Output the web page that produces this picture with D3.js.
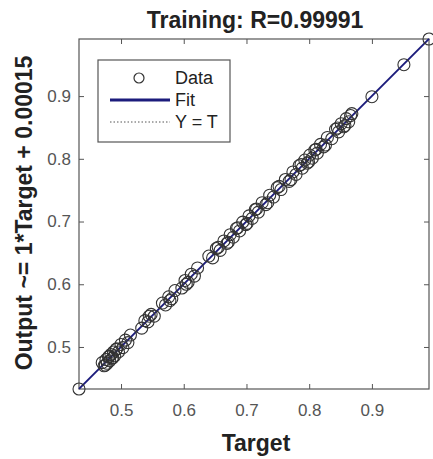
<!DOCTYPE html>
<html lang="en">
<head>
    <meta charset="UTF-8">
    <title>Training regression</title>
    <script src="https://d3js.org/d3.v7.min.js"></script>
    <style>
        body { margin: 0; background: #fff; }
        svg { display: block; font-family: "Liberation Sans", Arial, sans-serif; }
    </style>
</head>
<body>
<svg id="main" width="433" height="459"></svg>
<script>
    // target / output pairs
    let targets = [0.433, 0.470, 0.473, 0.476, 0.478, 0.480, 0.482, 0.484, 0.486, 0.488,
        0.490, 0.493, 0.496, 0.500, 0.503, 0.507, 0.511, 0.515, 0.533, 0.538,
        0.543, 0.548, 0.553, 0.566, 0.571, 0.576, 0.581, 0.586, 0.597, 0.602,
        0.607, 0.612, 0.617, 0.622, 0.640, 0.646, 0.652, 0.658, 0.664, 0.669,
        0.674, 0.679, 0.684, 0.689, 0.694, 0.699, 0.704, 0.709, 0.714, 0.719,
        0.725, 0.731, 0.737, 0.743, 0.749, 0.755, 0.762, 0.768, 0.774, 0.779,
        0.784, 0.789, 0.793, 0.797, 0.801, 0.805, 0.809, 0.813, 0.818, 0.823,
        0.829, 0.836, 0.842, 0.847, 0.851, 0.855, 0.859, 0.863, 0.868, 0.900,
        0.951, 0.991,
        0.475, 0.481, 0.487, 0.492, 0.545, 0.578, 0.604, 0.655, 0.671, 0.686,
        0.701, 0.716, 0.734, 0.752, 0.771, 0.787, 0.799, 0.811, 0.826, 0.845,
        0.857, 0.866];
    let outputs = [0.433, 0.475, 0.470, 0.480, 0.474, 0.484, 0.478, 0.488, 0.482, 0.492,
        0.486, 0.497, 0.492, 0.504, 0.499, 0.511, 0.507, 0.519, 0.530, 0.542,
        0.540, 0.552, 0.549, 0.570, 0.567, 0.580, 0.577, 0.590, 0.594, 0.606,
        0.603, 0.616, 0.613, 0.626, 0.645, 0.642, 0.657, 0.654, 0.669, 0.665,
        0.679, 0.675, 0.689, 0.685, 0.699, 0.695, 0.709, 0.705, 0.719, 0.715,
        0.730, 0.727, 0.742, 0.739, 0.754, 0.751, 0.767, 0.764, 0.779, 0.775,
        0.789, 0.785, 0.798, 0.793, 0.806, 0.801, 0.814, 0.809, 0.823, 0.819,
        0.834, 0.832, 0.847, 0.843, 0.856, 0.851, 0.864, 0.859, 0.872, 0.899,
        0.950, 0.991,
        0.471, 0.485, 0.483, 0.496, 0.549, 0.574, 0.600, 0.659, 0.667, 0.690,
        0.697, 0.720, 0.730, 0.756, 0.767, 0.791, 0.795, 0.815, 0.822, 0.849,
        0.853, 0.869];
    let tickVals = [0.5, 0.6, 0.7, 0.8, 0.9];
    let fitSlope = 1, fitOffset = 0.00015;
    let titleText = 'Training: R=0.99991';
    let xTitle = 'Target';
    let yTitle = 'Output ~= 1*Target + 0.00015';

    let svg = d3.select('#main');
    let box = {left: 79, right: 429, top: 39, bottom: 389};
    let lim = [d3.min(targets.concat(outputs)), d3.max(targets.concat(outputs))];

    let xScale = d3.scaleLinear().domain(lim).range([box.left, box.right]);
    let yScale = d3.scaleLinear().domain(lim).range([box.bottom, box.top]);

    svg.append('rect').attr('width', 433).attr('height', 459).attr('fill', '#fff');

    // axes, ticks pointing inward on all four sides
    let axisColor = '#555';
    function styleAxis(g) {
        g.select('.domain').remove();
        g.selectAll('.tick line').attr('stroke', axisColor);
        g.selectAll('.tick text').attr('fill', '#555').style('font-size', '17px');
    }
    svg.append('g').attr('transform', 'translate(0,' + box.bottom + ')')
        .call(d3.axisBottom(xScale).tickValues(tickVals).tickSizeInner(-5).tickSizeOuter(0).tickPadding(15).tickFormat(d3.format('.1f')))
        .call(styleAxis);
    svg.append('g').attr('transform', 'translate(' + box.left + ',0)')
        .call(d3.axisLeft(yScale).tickValues(tickVals).tickSizeInner(-5).tickSizeOuter(0).tickPadding(8).tickFormat(d3.format('.1f')))
        .call(styleAxis);
    svg.append('g').attr('transform', 'translate(0,' + box.top + ')')
        .call(d3.axisTop(xScale).tickValues(tickVals).tickSizeInner(-5).tickSizeOuter(0).tickFormat(''))
        .call(styleAxis);
    svg.append('g').attr('transform', 'translate(' + box.right + ',0)')
        .call(d3.axisRight(yScale).tickValues(tickVals).tickSizeInner(-5).tickSizeOuter(0).tickFormat(''))
        .call(styleAxis);
    svg.append('rect')
        .attr('x', box.left).attr('y', box.top)
        .attr('width', box.right - box.left).attr('height', box.bottom - box.top)
        .attr('fill', 'none').attr('stroke', axisColor).attr('stroke-width', 1.2);

    // Y = T dotted, then the fit
    svg.append('line')
        .attr('x1', xScale(lim[0])).attr('y1', yScale(lim[0]))
        .attr('x2', xScale(lim[1])).attr('y2', yScale(lim[1]))
        .attr('stroke', '#333').attr('stroke-dasharray', '1.5,2');
    svg.append('line')
        .attr('x1', xScale(lim[0])).attr('y1', yScale(fitSlope * lim[0] + fitOffset))
        .attr('x2', xScale(lim[1])).attr('y2', yScale(fitSlope * lim[1] + fitOffset))
        .attr('stroke', '#1c1c7c').attr('stroke-width', 2);

    svg.append('g').selectAll('circle')
        .data(targets)
        .enter()
        .append('circle')
        .attr('cx', function(d){ return xScale(d); })
        .attr('cy', function(d, i){ return yScale(outputs[i]); })
        .attr('r', 6)
        .attr('fill', 'none')
        .attr('stroke', '#333')
        .attr('stroke-width', 1.1);

    // titles
    svg.append('text').attr('x', 255).attr('y', 28).attr('text-anchor', 'middle')
        .style('font-size', '23px').style('font-weight', 'bold').attr('fill', '#222').text(titleText);
    svg.append('text').attr('x', 256).attr('y', 451).attr('text-anchor', 'middle')
        .style('font-size', '23px').style('font-weight', 'bold').attr('fill', '#222').text(xTitle);
    svg.append('text').attr('transform', 'translate(32,213) rotate(-90)').attr('text-anchor', 'middle')
        .style('font-size', '23px').style('font-weight', 'bold').attr('fill', '#222').text(yTitle);

    // legend
    let leg = svg.append('g');
    leg.append('rect').attr('x', 98).attr('y', 60).attr('width', 132).attr('height', 82)
        .attr('fill', '#fff').attr('stroke', '#555').attr('stroke-width', 1.2);
    leg.append('circle').attr('cx', 139).attr('cy', 78).attr('r', 5)
        .attr('fill', 'none').attr('stroke', '#333').attr('stroke-width', 1.2);
    leg.append('line').attr('x1', 110).attr('x2', 170).attr('y1', 100).attr('y2', 100)
        .attr('stroke', '#1c1c7c').attr('stroke-width', 3);
    leg.append('line').attr('x1', 110).attr('x2', 170).attr('y1', 122).attr('y2', 122)
        .attr('stroke', '#555').attr('stroke-dasharray', '1.5,2');
    let legLabels = ['Data', 'Fit', 'Y = T'];
    leg.selectAll('text.lab').data(legLabels).enter().append('text')
        .attr('x', 175).attr('y', function(d, i){ return 78 + i * 22; })
        .attr('dy', '0.35em')
        .style('font-size', '18px').attr('fill', '#222')
        .text(function(d){ return d; });
</script>
</body>
</html>
